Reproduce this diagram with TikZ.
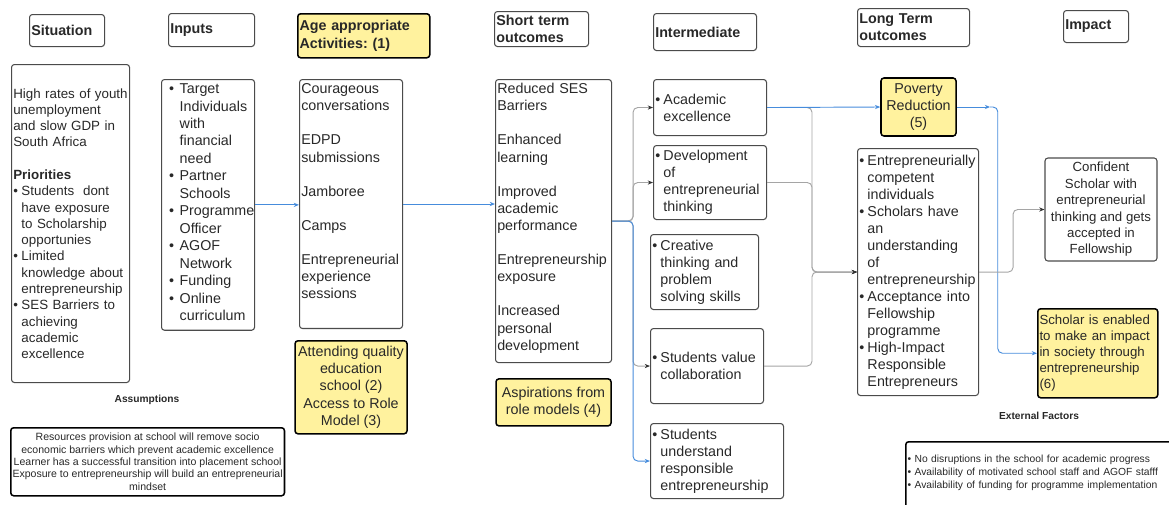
\documentclass[tikz,border=0pt]{standalone}
\usepackage{fontspec}
\setmainfont{Liberation Sans}
\usetikzlibrary{arrows.meta,positioning}

\definecolor{boxline}{RGB}{75,75,75}
\definecolor{textdark}{RGB}{40,40,40}
\definecolor{noteyellow}{RGB}{255,242,158}
\definecolor{linkblue}{RGB}{70,140,220}
\definecolor{linkgray}{RGB}{165,165,165}
\definecolor{tipdark}{RGB}{50,50,50}

\newcommand{\bitem}{\makebox[7pt][l]{\textbullet}}
\newcommand{\bcont}{\hspace*{7pt}}
\newcommand{\ibitem}{\hspace*{5pt}\makebox[9pt][l]{\textbullet}}
\newcommand{\ibcont}{\hspace*{14pt}}
\hyphenpenalty=10000
\exhyphenpenalty=10000

\begin{document}
\frenchspacing
\begin{tikzpicture}[x=0.03cm, y=-0.03cm,
    boxbase/.style={draw=boxline, line width=0.9pt, rounded corners=2.5pt, text=textdark, inner xsep=1.5pt, inner ysep=3pt},
    boxw/.style={minimum width=#1, text width=#1-3pt},
    header/.style={boxbase, anchor=north west, align=left, inner ysep=1pt, font=\fontsize{12.2}{14.6}\selectfont\bfseries},
    body/.style={boxbase, anchor=north west, align=left, font=\fontsize{12.2}{14.6}\selectfont},
    note/.style={boxbase, draw=black, line width=1.3pt, fill=noteyellow, align=center, font=\fontsize{12.2}{14.6}\selectfont},
    lbl/.style={font=\fontsize{8.7}{10}\selectfont\bfseries, text=textdark},
    glink/.style={draw=linkgray, line width=0.8pt, rounded corners=4pt, -{Stealth[length=4.5pt,width=3.6pt,color=tipdark]}},
    blink/.style={draw=linkblue, line width=0.8pt, rounded corners=4pt, -{Stealth[length=4.5pt,width=3.6pt]}},
    ]
  \useasboundingbox (0,0) rectangle (1169,505);

  % column headers
  \node[header, boxw=2.25cm, minimum height=0.96cm] (sithead) at (29,14) {Situation};
  \node[header, boxw=2.58cm, minimum height=0.99cm] (inphead) at (168,13) {Inputs};
  \node[header, fill=noteyellow, draw=black, line width=1.3pt, boxw=3.96cm, minimum height=1.32cm] (acthead) at (297,13) {Age appropriate\\Activities: (1)};
  \node[header, boxw=2.82cm, minimum height=1.05cm] (sthead) at (494,11) {Short term\\outcomes};
  \node[header, boxw=3.09cm, minimum height=1.11cm] (inthead) at (653,13) {Intermediate};
  \node[header, boxw=3.36cm, minimum height=1.14cm] (lthead) at (857,8) {Long Term\\outcomes};
  \node[header, boxw=1.95cm, minimum height=0.96cm] (imphead) at (1063,10) {Impact};

  % situation and inputs
  \node[body, boxw=3.54cm, minimum height=9.54cm, font=\fontsize{11.4}{13.9}\selectfont] (sit) at (11,64) {%
    \mbox{High rates of youth}\\ unemployment\\ and slow GDP in\\ South Africa\\[13.9pt]
    \textbf{Priorities}\\
    \bitem Students\ \ dont\\ \bcont have exposure\\ \bcont to Scholarship\\ \bcont opportunies\\
    \bitem Limited\\ \bcont knowledge about\\ \bcont entrepreneurship\\
    \bitem SES Barriers to\\ \bcont achieving\\ \bcont academic\\ \bcont excellence};
  \node[body, boxw=2.79cm, text height=9pt, text depth=199pt, font=\fontsize{12.2}{14.9}\selectfont] (inp) at (161,79) {%
    \ibitem Target\\ \ibcont Individuals\\ \ibcont with\\ \ibcont financial\\ \ibcont need\\
    \ibitem Partner\\ \ibcont Schools\\ \ibitem Programme\\ \ibcont Officer\\
    \ibitem AGOF\\ \ibcont Network\\ \ibitem Funding\\ \ibitem Online\\ \ibcont curriculum};

  % activities
  \node[body, boxw=3.09cm, text height=9pt, text depth=197.5pt] (act) at (299,79) {%
    Courageous\\ conversations\\[14.6pt] EDPD\\ submissions\\[14.6pt] Jamboree\\[14.6pt] Camps\\[14.6pt]
    Entrepreneurial\\ experience\\ sessions};
  \node[note, minimum width=3.36cm, minimum height=2.79cm, below=0.33cm of act] (attend) {Attending quality\\education\\school (2)\\Access to Role\\Model (3)};

  % short term
  \node[body, boxw=3.48cm, text height=9pt, text depth=226.6pt] (st) at (495,79) {%
    Reduced SES\\ Barriers\\[14.6pt] Enhanced\\ learning\\[14.6pt] Improved\\ academic\\ performance\\[14.6pt]
    Entrepreneurship\\ exposure\\[14.6pt] Increased\\ personal\\ development};
  \node[note, minimum width=3.45cm, minimum height=1.41cm, below=0.45cm of st] (asp) {Aspirations from\\role models (4)};

  % intermediate
  \node[body, boxw=3.39cm, minimum height=1.68cm] (acad) at (653,79) {\bitem Academic\\ \bcont excellence};
  \node[body, boxw=3.39cm, minimum height=2.22cm] (dev) at (653,145) {\bitem Development\\ \bcont of\\ \bcont entrepreneurial\\ \bcont thinking};
  \node[body, boxw=3.24cm, minimum height=2.25cm] (cre) at (650,234) {\bitem Creative\\ \bcont thinking and\\ \bcont problem\\ \bcont solving skills};
  \node[body, boxw=3.39cm, minimum height=2.25cm] (col) at (650,328) {\bitem Students value\\ \bcont collaboration};
  \node[body, boxw=3.99cm, minimum height=2.25cm] (und) at (650,423) {\bitem Students\\ \bcont understand\\ \bcont responsible\\ \bcont entrepreneurship};

  % long term
  \node[note, minimum width=2.25cm, minimum height=1.74cm] (pov) at (918.5,107) {Poverty\\Reduction\\(5)};
  \node[body, boxw=3.63cm, minimum height=7.41cm, font=\fontsize{12.2}{14.5}\selectfont] (lt) at (857,148) {%
    \bitem Entrepreneurially\\ \bcont competent\\ \bcont individuals\\
    \bitem Scholars have\\ \bcont an\\ \bcont understanding\\ \bcont of\\ \bcont entrepreneurship\\
    \bitem Acceptance into\\ \bcont Fellowship\\ \bcont programme\\
    \bitem High-Impact\\ \bcont Responsible\\ \bcont Entrepreneurs};

  % impact
  \node[boxbase, align=center, minimum width=3.36cm, minimum height=3.09cm, font=\fontsize{11.3}{14}\selectfont] (conf) at (1101,209.5) {Confident\\Scholar with\\entrepreneurial\\thinking and gets\\accepted in\\Fellowship};
  \node[note, anchor=north west, align=left, boxw=3.6cm, minimum height=2.67cm, font=\fontsize{11.3}{13.7}\selectfont] (enab) at (1037,308) {Scholar is enabled\\to make an impact\\in society through\\entrepreneurship\\(6)};

  % assumptions and external factors
  \node[lbl] (asmlbl) at (147,400) {Assumptions};
  \node[boxbase, draw=black, line width=1.3pt, anchor=north west, align=center, minimum width=8.19cm, minimum height=2.04cm, font=\fontsize{9}{10.5}\selectfont] (asm) at (10,427) {%
    Resources provision at school will remove socio\\
    economic barriers which prevent academic excellence\\
    Learner has a successful transition into placement school\\
    Exposure to entrepreneurship will build an entrepreneurial\\
    mindset};
  \node[lbl] (extlbl) at (1039,416) {External Factors};
  \node[boxbase, draw=black, line width=1.3pt, anchor=north west, align=left, boxw=8.1cm, text height=15pt, text depth=43pt, font=\fontsize{8.8}{10.8}\selectfont] (ext) at (905,441) {%
    \textbullet\ No disruptions in the school for academic progress\\
    \textbullet\ Availability of motivated school staff and AGOF stafff\\
    \textbullet\ Availability of funding for programme implementation};

  % connectors
  \draw[blink] (inp.east) -- (inp.east -| act.west);
  \draw[blink] (act.east) -- (act.east -| st.west);

  \draw[glink] (st.east) -- ++(21,0) |- (acad.west);
  \draw[glink] (st.east) -- ++(21,0) |- (dev.west);
  \draw[glink] (st.east) -- ++(21,0) |- (col.west);
  \draw[blink] (st.east) -- ++(21,0) |- (und.west);

  \coordinate (ltjoin) at ([xshift=-1.35cm]lt.west);
  \draw[glink] (acad.east) -| (ltjoin) -- (lt.west);
  \draw[glink] (dev.east) -| (ltjoin) -- (lt.west);
  \draw[glink] (col.east) -| (ltjoin) -- (lt.west);
  \draw[blink] (acad.east) -- (pov.west);

  \coordinate (povtip) at ([xshift=1.0cm]pov.east);
  \coordinate (povturn) at ([xshift=1.23cm]pov.east);
  \draw[blink] (pov.east) -- (povtip);
  \draw[blink] (povtip) -- (povturn) |- (enab.west);

  \draw[glink] (lt.east) -- ++(34,0) |- (conf.west);
\end{tikzpicture}
\end{document}
